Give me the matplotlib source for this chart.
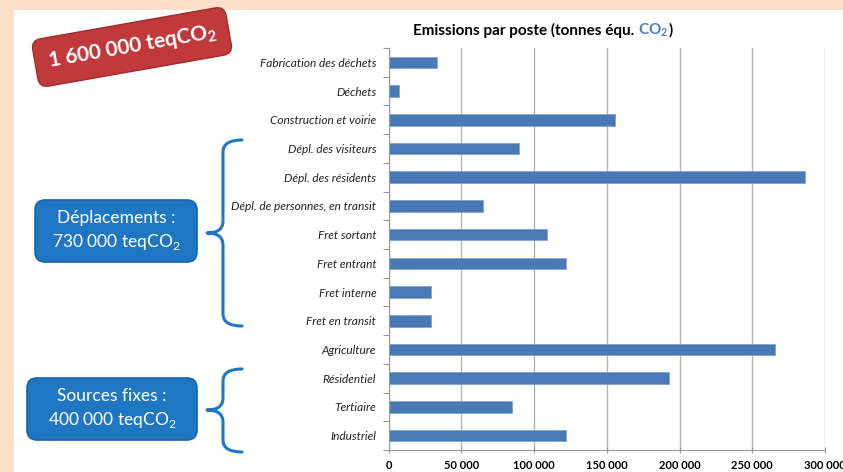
import matplotlib
matplotlib.use("Agg")
import matplotlib.pyplot as plt
import matplotlib.patches as mpatches
from matplotlib.path import Path
from matplotlib.ticker import FixedLocator, FuncFormatter

# ── Data ──────────────────────────────────────────────────────────────────────
postes = [
    "Fabrication des déchets", "Déchets", "Construction et voirie",
    "Dépl. des visiteurs", "Dépl. des résidents", "Dépl. de personnes, en transit",
    "Fret sortant", "Fret entrant", "Fret interne", "Fret en transit",
    "Agriculture", "Résidentiel", "Tertiaire", "Industriel",
]
emissions = [33000, 7300, 155600, 89600, 286300, 65100, 108700,
             121900, 28900, 29100, 265700, 193000, 84600, 121700]
x_ticks = [0, 50000, 100000, 150000, 200000, 250000, 300000]

total_label = "1 600 000 teqCO$_\\mathregular{2}$"
group_labels = ["Déplacements :\n730 000 teqCO$_\\mathregular{2}$",
                "Sources fixes :\n400 000 teqCO$_\\mathregular{2}$"]

# ── Style ─────────────────────────────────────────────────────────────────────
W, H = 843, 472
PEACH = "#fde0c9"
BAR = "#4a7ab6"
BOX = "#1f77c4"
plt.rcParams["font.family"] = ["Lato", "DejaVu Sans"]


def px(x, y):
    """Pixel coords (origin top-left) -> figure fraction."""
    return x / W, 1 - y / H


def brace(x_tip, x_body, x_end, y_top, y_mid, y_bot, r=12):
    pts = [px(x_end, y_top), px(x_body, y_top), px(x_body, y_top + r),
           px(x_body, y_mid - r), px(x_body, y_mid), px(x_tip, y_mid),
           px(x_body, y_mid), px(x_body, y_mid + r),
           px(x_body, y_bot - r), px(x_body, y_bot), px(x_end, y_bot)]
    codes = [Path.MOVETO, Path.CURVE3, Path.CURVE3, Path.LINETO,
             Path.CURVE3, Path.CURVE3, Path.CURVE3, Path.CURVE3,
             Path.LINETO, Path.CURVE3, Path.CURVE3]
    return mpatches.PathPatch(Path(pts, codes), transform=fig.transFigure,
                              fill=False, edgecolor=BOX, linewidth=2.2,
                              capstyle="round", joinstyle="round", zorder=2)


fig = plt.figure(figsize=(W / 100, H / 100), dpi=100, facecolor=PEACH)
x0, y0 = px(14, 472)
x1, y1 = px(W, 10)
fig.patches.append(mpatches.Rectangle((x0, y0), x1 - x0, y1 - y0,
                                      transform=fig.transFigure,
                                      facecolor="white", edgecolor="none", zorder=-5))

# ── Bar chart ─────────────────────────────────────────────────────────────────
left, right = px(388.7, 0)[0], px(825, 0)[0]
bottom, top = px(0, 450)[1], px(0, 48)[1]
ax = fig.add_axes([left, bottom, right - left, top - bottom], zorder=1)
ax.set_facecolor("none")
ypos = list(range(len(postes)))
ax.barh(ypos, emissions, height=0.4, color=BAR, edgecolor="#7fa3d0",
        linewidth=0.6, zorder=3)
ax.set_ylim(len(postes) - 0.5, -0.5)
ax.set_xlim(0, 300000)

ax.xaxis.set_major_locator(FixedLocator(x_ticks))
ax.xaxis.set_major_formatter(FuncFormatter(lambda v, _: f"{int(v):,}".replace(",", " ")))
ax.grid(axis="x", color="#b4b4b4", linewidth=1.0, zorder=0)
ax.tick_params(axis="x", length=4, color="#999999", direction="inout", pad=5,
               labelsize=8)
for t in ax.get_xticklabels():
    t.set_fontweight("bold")

ax.yaxis.set_major_locator(FixedLocator([i - 0.5 for i in range(len(postes) + 1)]))
ax.yaxis.set_major_formatter(FuncFormatter(lambda v, _: ""))
ax.yaxis.set_minor_locator(FixedLocator(ypos))
ax.set_yticklabels(postes, minor=True, fontstyle="italic", fontsize=8.6,
                   color="#222222")
ax.tick_params(axis="y", which="major", length=4, color="#999999")
ax.tick_params(axis="y", which="minor", length=0, pad=9)

for s in ("top", "right"):
    ax.spines[s].set_visible(False)
for s in ("left", "bottom"):
    ax.spines[s].set_color("#999999")

# ── Title with blue CO2 ───────────────────────────────────────────────────────
renderer = fig.canvas.get_renderer()
tx, ty = px(413, 30)
t1 = fig.text(tx, ty, "Emissions par poste (tonnes équ.", fontsize=11,
              fontweight="bold", va="center", ha="left")
bb = t1.get_window_extent(renderer)
t2 = fig.text((bb.x1 + 4) / W, ty, "CO$_\\mathregular{2}$", fontsize=11,
              fontweight="bold", va="center", ha="left", color="#4f81bd")
bb = t2.get_window_extent(renderer)
fig.text(bb.x1 / W, ty, ")", fontsize=11, fontweight="bold", va="center", ha="left")

# ── Annotations ───────────────────────────────────────────────────────────────
bx, by = px(132, 47)
fig.text(bx, by, total_label, rotation=10, fontsize=15, fontweight="bold",
         color="white", ha="center", va="center",
         bbox=dict(boxstyle="round,pad=0.6,rounding_size=0.45",
                   facecolor="#c0393b", edgecolor="#a02a2c", linewidth=1))

for (cx, cy), label, (bw, bh) in zip([(116, 231), (112, 409)], group_labels,
                                     [(162, 62), (170, 62)]):
    bx0, by0 = px(cx - bw / 2, cy + bh / 2)
    fig.patches.append(mpatches.FancyBboxPatch(
        (bx0, by0), bw / W, bh / H, transform=fig.transFigure,
        boxstyle="round,pad=0,rounding_size=0.012", mutation_aspect=W / H,
        facecolor=BOX, edgecolor="#1863a6", linewidth=1.2, zorder=2))
    fx, fy = px(cx, cy)
    fig.text(fx, fy, label, color="white", fontsize=12.5, ha="center",
             va="center", linespacing=1.45, zorder=3)

fig.patches.append(brace(207, 223, 242, 140, 233, 326))
fig.patches.append(brace(207, 223, 242, 369, 410, 452))

fig.savefig("out.png", dpi=100, facecolor=PEACH)
